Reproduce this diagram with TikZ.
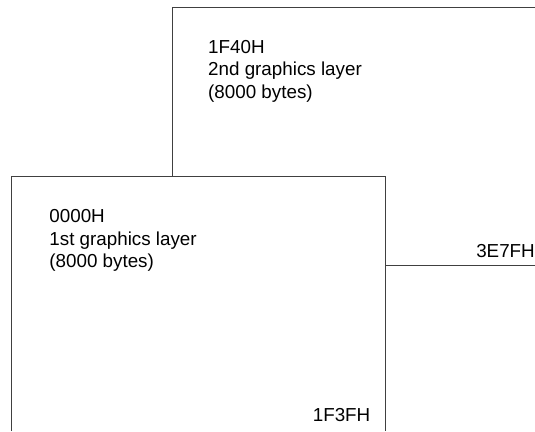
\documentclass[tikz,border=0pt]{standalone}
\usepackage{fontspec}
\setmainfont{Liberation Sans}
\begin{document}
\begin{tikzpicture}[x=1pt,y=1pt,
  frame/.style={draw=black!75,line width=1pt},
  lbl/.style={inner sep=0pt,font=\fontsize{18.8}{22.6}\selectfont,align=left,text=black}]
\useasboundingbox (0,0) rectangle (535,-431);
% back layer
\coordinate (bBL) at (172.7,-176.7);
\coordinate (bTL) at (172.7,-7.5);
\coordinate (bTR) at (535,-7.5);
\draw[frame] (bBL) -- (bTL) -- (bTR);
% front layer
\coordinate (fBL) at (11,-431);
\coordinate (fTL) at (11,-176.7);
\coordinate (fTR) at (385,-176.7);
\coordinate (fBR) at (385,-431);
\draw[frame] (fBL) -- (fTL) -- (fTR) -- (fBR);
% marker line
\coordinate (mL) at (385,-265.5);
\coordinate (mR) at (535,-265.5);
\draw[frame] (mL) -- (mR);
% labels
\node[lbl,anchor=north west] (t2) at (208,-39.8) {1F40H\\2nd graphics layer\\(8000 bytes)};
\node[lbl,anchor=north west] (t1) at (49.2,-209.2) {0000H\\1st graphics layer\\(8000 bytes)};
\node[lbl,anchor=base east] (e1) at (370.5,-421.7) {1F3FH};
\node[lbl,anchor=base east] (e2) at (535,-257) {3E7FH};
\end{tikzpicture}
\end{document}
